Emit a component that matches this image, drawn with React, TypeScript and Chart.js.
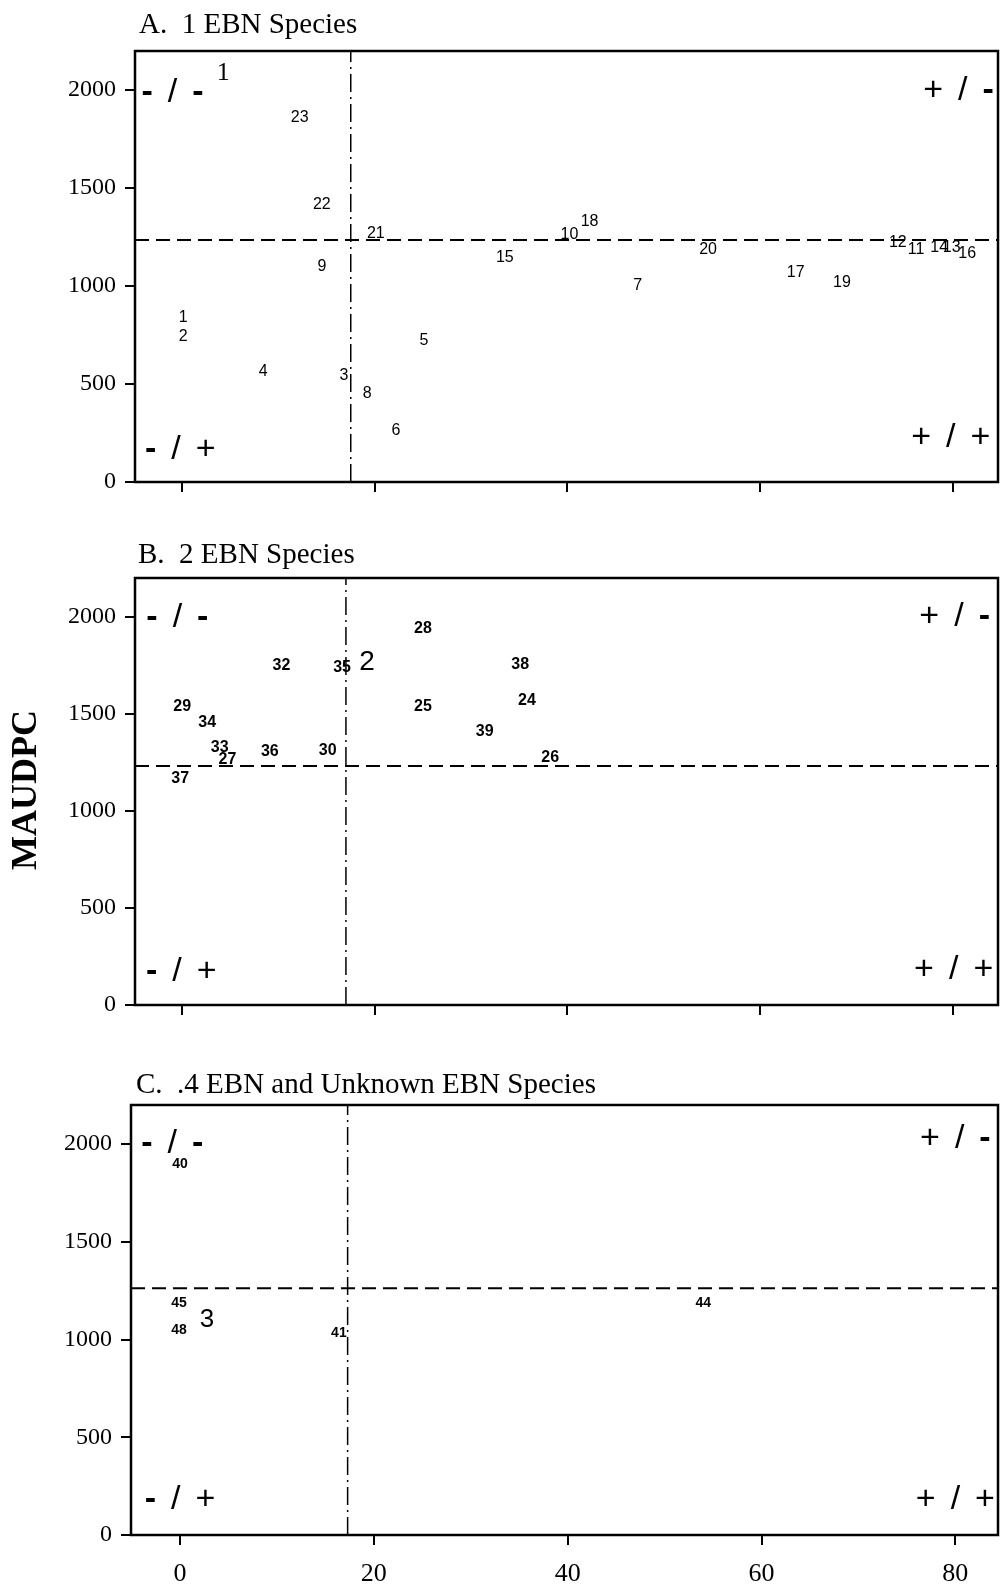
import React, { useEffect, useRef } from 'react';
import { Chart, registerables } from 'chart.js';

Chart.register(...registerables);

// ---------- shared axis values ----------
const X_TICKS = [0, 20, 40, 60, 80];
const Y_TICKS = [0, 500, 1000, 1500, 2000];
const Y_MAX = 2200;

// ---------- Panel A: 1 EBN species ----------
const A_IDS = ['1', '2', '3', '4', '5', '6', '7', '8', '9', '10', '11', '12', '13', '14', '15', '16', '17', '18', '19', '20', '21', '22', '23'];
const A_X = [0.1, 0.1, 16.8, 8.4, 25.1, 22.2, 47.3, 19.2, 14.5, 40.2, 76.2, 74.3, 79.9, 78.6, 33.5, 81.5, 63.7, 42.3, 68.5, 54.6, 20.1, 14.5, 12.2];
const A_Y = [837, 740, 541, 566, 724, 260, 1000, 449, 1102, 1265, 1184, 1224, 1194, 1199, 1143, 1168, 1071, 1327, 1020, 1184, 1270, 1418, 1862];
const A_MEAN_Y = 1235;
const A_MEAN_X = 17.5;

// ---------- Panel B: 2 EBN species ----------
const B_IDS = ['24', '25', '26', '27', '28', '29', '30', '32', '33', '34', '35', '36', '37', '38', '39'];
const B_X = [35.8, 25.0, 38.2, 4.7, 25.0, 0.0, 15.1, 10.3, 3.9, 2.6, 16.6, 9.1, -0.2, 35.1, 31.4];
const B_Y = [1567, 1536, 1273, 1263, 1938, 1536, 1309, 1747, 1325, 1454, 1737, 1304, 1165, 1753, 1407];
const B_MEAN_Y = 1232;
const B_MEAN_X = 17.0;

// ---------- Panel C: 4 EBN and unknown EBN species ----------
const C_IDS = ['40', '41', '44', '45', '48'];
const C_X = [0.0, 16.4, 54.0, -0.1, -0.1];
const C_Y = [1897, 1031, 1186, 1186, 1046];
const C_MEAN_Y = 1262;
const C_MEAN_X = 17.3;

const TITLES = ['A.  1 EBN Species', 'B.  2 EBN Species', 'C.  .4 EBN and Unknown EBN Species'];
const QUAD_TEXT = ['-/-', '+/-', '-/+', '+/+'];
const GROUP_MARKS = ['1', '2', '3'];
const Y_TITLE = 'MAUDPC';

type Note = { text: string; x: number; y: number; font: string; quad?: boolean };

type PanelCfg = {
  top: number;
  height: number;
  padTop: number;
  xAxisH: number;
  yAxisW: number;
  xMin: number;
  xMax: number;
  ids: string[];
  xs: number[];
  ys: number[];
  meanX: number;
  meanY: number;
  showXLabels: boolean;
  labelFont: string;
  title: string;
  titleX: number;
  titleY: number;
  notes: Note[];
  yTitle?: { x: number; y: number };
};

const QUAD_FONT = '34px "Liberation Sans"';
const QUAD_DASH_FONT = 'bold 34px "Liberation Sans"';

function quads(tl: [number, number], tr: [number, number], bl: [number, number], br: [number, number]): Note[] {
  return [
    { text: QUAD_TEXT[0], x: tl[0], y: tl[1], font: QUAD_FONT, quad: true },
    { text: QUAD_TEXT[1], x: tr[0], y: tr[1], font: QUAD_FONT, quad: true },
    { text: QUAD_TEXT[2], x: bl[0], y: bl[1], font: QUAD_FONT, quad: true },
    { text: QUAD_TEXT[3], x: br[0], y: br[1], font: QUAD_FONT, quad: true },
  ];
}

const PANELS: PanelCfg[] = [
  {
    top: 0, height: 528, padTop: 51, xAxisH: 46, yAxisW: 135, xMin: -4.9, xMax: 84.7,
    ids: A_IDS, xs: A_X, ys: A_Y, meanX: A_MEAN_X, meanY: A_MEAN_Y, showXLabels: false,
    labelFont: '16px "Liberation Sans"', title: TITLES[0], titleX: 139, titleY: 33,
    notes: [
      ...quads([-1.0, 1990], [80.6, 2000], [-0.2, 163], [79.8, 224]),
      { text: GROUP_MARKS[0], x: 4.25, y: 2087, font: '26px "Liberation Serif"' },
    ],
  },
  {
    top: 528, height: 527, padTop: 50, xAxisH: 50, yAxisW: 135, xMin: -4.9, xMax: 84.7,
    ids: B_IDS, xs: B_X, ys: B_Y, meanX: B_MEAN_X, meanY: B_MEAN_Y, showXLabels: false,
    labelFont: 'bold 16px "Liberation Sans"', title: TITLES[1], titleX: 138, titleY: 35,
    notes: [
      ...quads([-0.5, 1995], [80.2, 2000], [-0.1, 170], [80.1, 180]),
      { text: GROUP_MARKS[1], x: 19.2, y: 1768, font: '28px "Liberation Sans"' },
    ],
    yTitle: { x: 27, y: 262 },
  },
  {
    top: 1055, height: 529, padTop: 50, xAxisH: 49, yAxisW: 131, xMin: -5.05, xMax: 84.4,
    ids: C_IDS, xs: C_X, ys: C_Y, meanX: C_MEAN_X, meanY: C_MEAN_Y, showXLabels: true,
    labelFont: 'bold 14px "Liberation Sans"', title: TITLES[2], titleX: 136, titleY: 38,
    notes: [
      ...quads([-0.8, 2000], [80.0, 2030], [0.0, 180], [80.0, 180]),
      { text: GROUP_MARKS[2], x: 2.8, y: 1103, font: '26px "Liberation Sans"' },
    ],
  },
];

function drawQuad(ctx: CanvasRenderingContext2D, text: string, cx: number, cy: number) {
  const gap = 15;
  const chars = text.split('');
  const widths = chars.map((c) => {
    ctx.font = c === '-' ? QUAD_DASH_FONT : QUAD_FONT;
    return ctx.measureText(c).width;
  });
  const total = widths.reduce((s, w) => s + w, 0) + gap * (chars.length - 1);
  let x = cx - total / 2;
  ctx.textAlign = 'left';
  chars.forEach((c, i) => {
    ctx.font = c === '-' ? QUAD_DASH_FONT : QUAD_FONT;
    ctx.fillText(c, x, cy);
    x += widths[i] + gap;
  });
  ctx.textAlign = 'center';
}

const decorPlugin = {
  id: 'panelDecor',
  afterDatasetsDraw(chart: any, _args: any, opts: any) {
    const ctx = chart.ctx;
    const meta = chart.getDatasetMeta(0);
    ctx.save();
    ctx.fillStyle = '#000';
    ctx.font = opts.labelFont;
    ctx.textAlign = 'center';
    ctx.textBaseline = 'middle';
    meta.data.forEach((el: any, i: number) => {
      ctx.fillText(opts.ids[i], el.x, el.y);
    });
    ctx.restore();
  },
  afterDraw(chart: any, _args: any, opts: any) {
    const ctx = chart.ctx;
    const a = chart.chartArea;
    const xs = chart.scales.x;
    const ys = chart.scales.y;
    ctx.save();
    ctx.strokeStyle = '#000';
    ctx.lineWidth = 2.5;
    ctx.strokeRect(a.left, a.top, a.right - a.left, a.bottom - a.top);

    ctx.fillStyle = '#000';
    ctx.textAlign = 'center';
    ctx.textBaseline = 'middle';
    (opts.notes as Note[]).forEach((n) => {
      const px = xs.getPixelForValue(n.x);
      const py = ys.getPixelForValue(n.y);
      if (n.quad) {
        drawQuad(ctx, n.text, px, py);
      } else {
        ctx.font = n.font;
        ctx.fillText(n.text, px, py);
      }
    });

    ctx.font = '29px "Liberation Serif"';
    ctx.textAlign = 'left';
    ctx.textBaseline = 'alphabetic';
    ctx.fillText(opts.title, opts.titleX, opts.titleY);

    if (opts.yTitle) {
      ctx.translate(opts.yTitle.x, opts.yTitle.y);
      ctx.rotate(-Math.PI / 2);
      ctx.font = 'bold 36px "Liberation Serif"';
      ctx.textAlign = 'center';
      ctx.textBaseline = 'middle';
      ctx.fillText(Y_TITLE, 0, 0);
    }
    ctx.restore();
  },
};

function Panel({ cfg }: { cfg: PanelCfg }) {
  const ref = useRef<HTMLCanvasElement>(null);
  useEffect(() => {
    const chart = new Chart(ref.current as HTMLCanvasElement, {
      type: 'scatter',
      data: {
        datasets: [
          {
            data: cfg.xs.map((x, i) => ({ x, y: cfg.ys[i] })),
            pointRadius: 0,
            pointHoverRadius: 0,
            showLine: false,
          },
          {
            data: [{ x: cfg.xMin, y: cfg.meanY }, { x: cfg.xMax, y: cfg.meanY }],
            showLine: true,
            borderColor: '#000',
            borderWidth: 2,
            borderDash: [14, 7],
            pointRadius: 0,
            pointHoverRadius: 0,
          },
          {
            data: [{ x: cfg.meanX, y: 0 }, { x: cfg.meanX, y: Y_MAX }],
            showLine: true,
            borderColor: '#000',
            borderWidth: 1.5,
            borderDash: [18, 5, 2, 5],
            pointRadius: 0,
            pointHoverRadius: 0,
          },
        ],
      } as any,
      options: {
        responsive: false,
        animation: false,
        devicePixelRatio: 1,
        events: [],
        layout: { padding: { top: cfg.padTop, right: 6, left: 0, bottom: 0 } },
        plugins: {
          legend: { display: false },
          tooltip: { enabled: false },
          title: { display: false },
          panelDecor: {
            ids: cfg.ids,
            labelFont: cfg.labelFont,
            notes: cfg.notes,
            title: cfg.title,
            titleX: cfg.titleX,
            titleY: cfg.titleY,
            yTitle: cfg.yTitle,
          },
        } as any,
        scales: {
          x: {
            type: 'linear',
            position: 'bottom',
            min: cfg.xMin,
            max: cfg.xMax,
            afterBuildTicks: (axis: any) => {
              axis.ticks = X_TICKS.map((v) => ({ value: v }));
            },
            afterFit: (s: any) => {
              s.height = cfg.xAxisH;
            },
            ticks: {
              autoSkip: false,
              maxRotation: 0,
              color: '#000',
              padding: 14,
              font: { family: 'Liberation Serif', size: 26 },
              callback: (v: any) => (cfg.showXLabels ? String(v) : ''),
            },
            grid: { drawOnChartArea: false, drawTicks: true, tickLength: 10, color: '#000', lineWidth: 2 },
            border: { display: false },
          },
          y: {
            type: 'linear',
            min: 0,
            max: Y_MAX,
            afterBuildTicks: (axis: any) => {
              axis.ticks = Y_TICKS.map((v) => ({ value: v }));
            },
            afterFit: (s: any) => {
              s.width = cfg.yAxisW;
            },
            ticks: {
              autoSkip: false,
              color: '#000',
              padding: 9,
              font: { family: 'Liberation Serif', size: 24 },
              callback: (v: any) => String(v),
            },
            grid: { drawOnChartArea: false, drawTicks: true, tickLength: 10, color: '#000', lineWidth: 2 },
            border: { display: false },
          },
        },
      } as any,
      plugins: [decorPlugin as any],
    });
    return () => chart.destroy();
  }, [cfg]);
  return (
    <canvas
      ref={ref}
      width={1004}
      height={cfg.height}
      style={{ position: 'absolute', left: 0, top: cfg.top, width: 1004, height: cfg.height }}
    />
  );
}

export default function App() {
  return (
    <div
      style={{
        position: 'absolute',
        left: 0,
        top: 0,
        width: 1004,
        height: 1584,
        overflow: 'hidden',
        background: '#fff',
      }}
    >
      {PANELS.map((p, i) => (
        <Panel key={i} cfg={p} />
      ))}
    </div>
  );
}
